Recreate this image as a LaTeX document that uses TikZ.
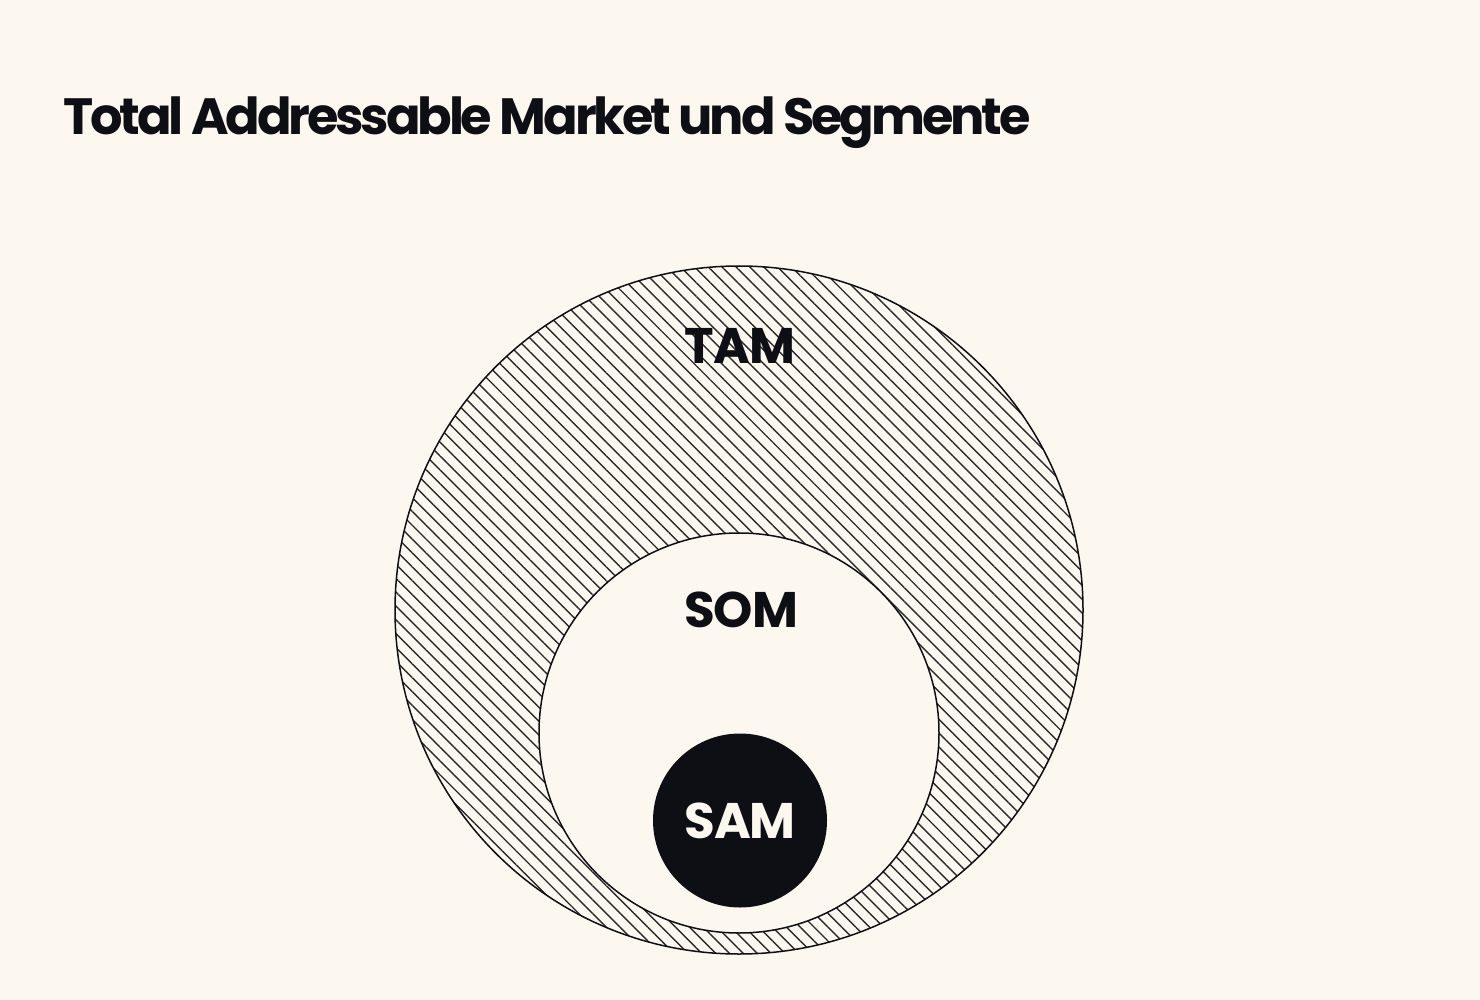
\documentclass[tikz,border=0pt]{standalone}
\usepackage{fontspec}
\setmainfont{Poppins}
\usetikzlibrary{patterns.meta}
\definecolor{bg}{HTML}{FDF8EF}
\definecolor{ink}{HTML}{0E0F15}
\definecolor{hatch}{HTML}{2A2A2C}
\tikzset{
  ring/.style={draw=ink, line width=1.5pt},
  lbl/.style={font=\fontsize{50}{50}\selectfont\bfseries, text=ink, inner sep=0pt, anchor=base},
}
\begin{document}
\begin{tikzpicture}[x=1pt,y=-1pt]
\fill[bg] (0,0) rectangle (1480,1000);
\useasboundingbox (0,0) rectangle (1480,1000);
\node[font=\fontsize{51}{51}\selectfont\bfseries, text=ink, inner sep=0pt, anchor=base west] (title) at (63,135) {\addfontfeatures{LetterSpace=-6.2}Total Addressable Market und Segmente};
\node[circle, minimum size=688pt, inner sep=0pt, ring, pattern={Lines[angle=-45,distance=9.8pt,line width=1.4pt]}, pattern color=hatch] (tam) at (739,610) {};
\node[circle, minimum size=400pt, inner sep=0pt, ring, fill=bg] (som) at (739,733) {};
\node[circle, minimum size=174pt, inner sep=0pt, fill=ink] (sam) at (740,820.5) {};
\node[lbl] (tamlbl) at (740,363) {\addfontfeatures{LetterSpace=-2}TAM};
\node[lbl] (somlbl) at (741,627) {\addfontfeatures{LetterSpace=-2}SOM};
\node[lbl, text=bg] (samlbl) at (740,838) {\addfontfeatures{LetterSpace=-2}SAM};
\end{tikzpicture}
\end{document}
